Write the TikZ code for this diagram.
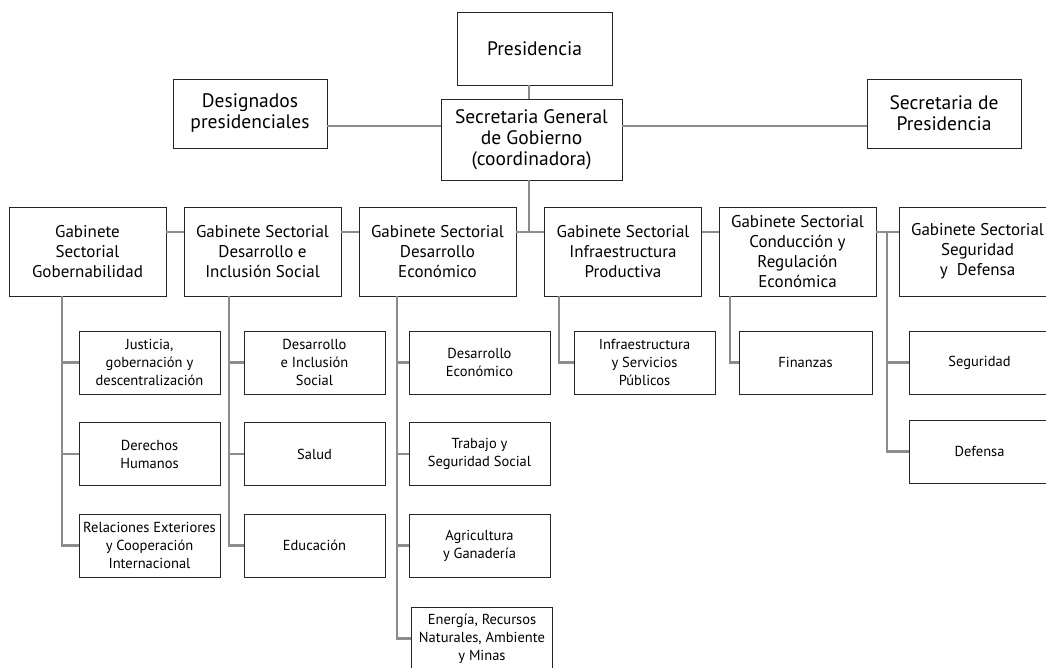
\documentclass[tikz,border=0pt]{standalone}
\usepackage{fontspec}
\setmainfont{PT Sans}

\begin{document}
\begin{tikzpicture}[x=1pt,y=-1pt,
    box/.style={draw=black!85,line width=0.8pt,align=center,inner sep=1pt},
    head/.style={box,font=\fontsize{19.5}{21}\selectfont},
    gab/.style={box,minimum width=157pt,minimum height=89pt,font=\fontsize{17}{20}\selectfont},
    sub/.style={box,minimum width=141pt,minimum height=63pt,font=\fontsize{14.5}{18}\selectfont},
    link/.style={draw=black!45,line width=2.6pt}]
    \useasboundingbox (0,0) rectangle (1046,667);

    % cabeza
    \node[head,minimum width=155pt,minimum height=73pt] (pres) at (534.5,48.5) {Presidencia};
    \node[head,minimum width=154pt,minimum height=69pt] (desig) at (250,113.5) {Designados\\presidenciales};
    \node[head,minimum width=181pt,minimum height=81pt] (sgg) at (531.5,139.5) {Secretaria General\\de Gobierno\\(coordinadora)};
    \node[head,minimum width=154pt,minimum height=69pt] (spres) at (944,113.5) {Secretaria de\\Presidencia};

    \coordinate (hub) at (529,126);
    \coordinate (bus) at (529,232);

    \draw[link] (pres.south -| hub) -- (sgg.north -| hub);
    \draw[link] (desig.east |- hub) -- (sgg.west |- hub);
    \draw[link] (sgg.east |- hub) -- (spres.west |- hub);
    \draw[link] (sgg.south -| bus) -- (bus);

    % gabinetes sectoriales
    \node[gab] (gob) at (87.5,251.5) {Gabinete\\Sectorial\\Gobernabilidad};
    \node[gab] (dis) at (262.5,251.5) {Gabinete Sectorial\\Desarrollo e\\Inclusión Social};
    \node[gab] (eco) at (437.5,251.5) {Gabinete Sectorial\\Desarrollo\\Económico};
    \node[gab] (inf) at (623,251.5) {Gabinete Sectorial\\Infraestructura\\Productiva};
    \node[gab] (con) at (797.5,251.5) {Gabinete Sectorial\\Conducción y\\Regulación\\Económica};
    \node[gab] (seg) at (977.5,251.5) {Gabinete Sectorial\\Seguridad\\y~ Defensa};

    \foreach \a/\b in {gob/dis,dis/eco,eco/inf,inf/con,con/seg}
        \draw[link] (\a.east |- bus) -- (\b.west |- bus);

    % secretarias
    \node[sub] (gob1) at (149.5,362.5) {Justicia,\\gobernación y\\descentralización};
    \node[sub] (gob2) at (149.5,454) {Derechos\\Humanos};
    \node[sub] (gob3) at (149.5,545.5) {Relaciones Exteriores\\y Cooperación\\Internacional};
    \node[sub] (dis1) at (314.5,362.5) {Desarrollo\\e Inclusión\\Social};
    \node[sub] (dis2) at (314.5,454) {Salud};
    \node[sub] (dis3) at (314.5,545.5) {Educación};
    \node[sub] (eco1) at (479.5,362.5) {Desarrollo\\Económico};
    \node[sub] (eco2) at (479.5,454) {Trabajo y\\Seguridad Social};
    \node[sub] (eco3) at (479.5,545.5) {Agricultura\\y Ganadería};
    \node[sub] (eco4) at (482,638.5) {Energía, Recursos\\Naturales, Ambiente\\y Minas};
    \node[sub] (inf1) at (644.5,362.5) {Infraestructura\\y Servicios\\Públicos};
    \node[sub,minimum width=133pt] (con1) at (805.5,362.5) {Finanzas};
    \node[sub] (seg1) at (979.5,362.5) {Seguridad};
    \node[sub] (seg2) at (979.5,451.5) {Defensa};

    \foreach \g/\sx/\n in {gob/62/3,dis/229/3,eco/397/4,inf/559/1,con/730/1} {
        \coordinate (sp) at (\sx,0);
        \draw[link] (sp |- \g.south) |- (\g\n.west);
        \foreach \i in {1,...,\n}
            \draw[link] (sp |- \g\i.west) -- (\g\i.west);
    }
    \coordinate (spseg) at (887,0);
    \draw[link] (spseg |- bus) |- (seg2.west);
    \draw[link] (spseg |- seg1.west) -- (seg1.west);
\end{tikzpicture}
\end{document}
